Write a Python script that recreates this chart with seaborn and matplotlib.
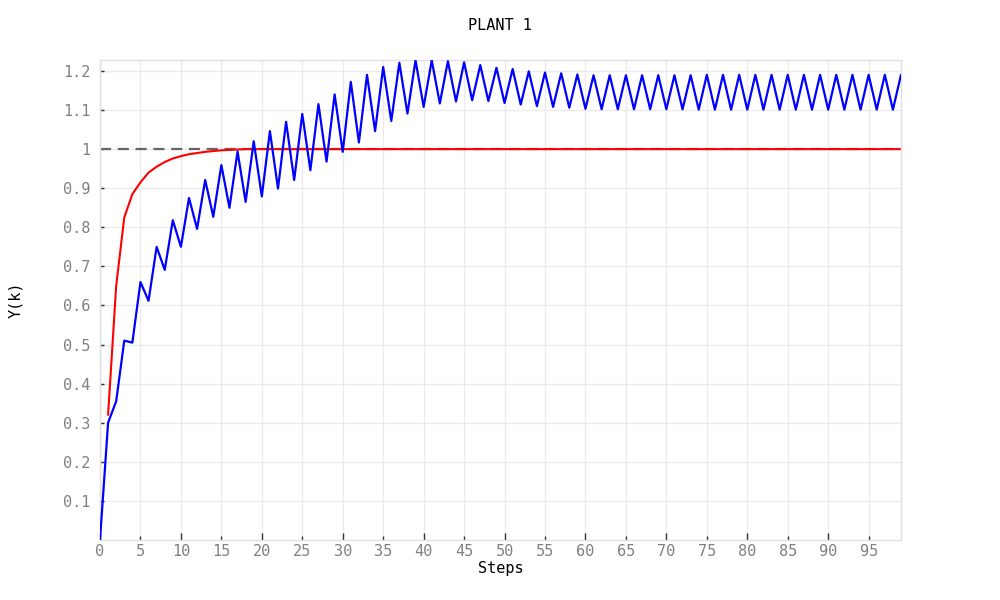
import numpy as np
import pandas as pd
import matplotlib
matplotlib.use("Agg")
import matplotlib.pyplot as plt
import seaborn as sns

# step index
steps = list(range(100))

# plant output (blue)
plant_out = [
    0.0, 0.30, 0.355, 0.51, 0.505, 0.66, 0.612, 0.75, 0.691, 0.818,
    0.75, 0.875, 0.796, 0.921, 0.827, 0.959, 0.85, 0.994, 0.865, 1.02,
    0.879, 1.046, 0.899, 1.07, 0.921, 1.09, 0.946, 1.115, 0.968, 1.14,
    0.993, 1.172, 1.017, 1.19, 1.046, 1.21, 1.072, 1.221, 1.091, 1.227,
    1.108, 1.227, 1.117, 1.225, 1.122, 1.222, 1.125, 1.215, 1.123, 1.208,
    1.118, 1.205, 1.114, 1.199, 1.11, 1.196, 1.108, 1.194, 1.106, 1.191,
    1.103, 1.189, 1.102, 1.189, 1.102, 1.189, 1.102, 1.189, 1.102, 1.189,
    1.102, 1.189, 1.102, 1.189, 1.101, 1.19, 1.101, 1.19, 1.101, 1.19,
    1.101, 1.19, 1.101, 1.19, 1.101, 1.19, 1.101, 1.19, 1.101, 1.19,
    1.101, 1.19, 1.101, 1.19, 1.101, 1.19, 1.101, 1.19, 1.101, 1.19,
]

# reference model output (red), starts at step 1
ref_steps = list(range(1, 100))
ref_out = [
    0.32, 0.65, 0.825, 0.885, 0.915, 0.94, 0.955, 0.967, 0.976, 0.982,
    0.987, 0.99, 0.993, 0.995, 0.997, 0.998, 0.999,
] + [1.0] * 82

setpoint = 1.0

ytick_vals = [0.1, 0.2, 0.3, 0.4, 0.5, 0.6, 0.7, 0.8, 0.9, 1.0, 1.1, 1.2]
ytick_labels = ["0.1", "0.2", "0.3", "0.4", "0.5", "0.6", "0.7", "0.8", "0.9", "1", "1.1", "1.2"]

sns.set_theme(style="whitegrid")
plt.rcParams["font.family"] = ["DejaVu Sans Mono", "DejaVu Sans"]

fig = plt.figure(figsize=(10, 6), dpi=100)
ax = fig.add_axes([0.1, 0.1, 0.801, 0.8])

ax.axhline(setpoint, color="#666666", lw=1.6, ls=(0, (5, 3)), zorder=1)

df_ref = pd.DataFrame({"step": ref_steps, "y": ref_out})
df_plant = pd.DataFrame({"step": steps, "y": plant_out})
sns.lineplot(data=df_ref, x="step", y="y", color="#ff0000", lw=1.5, ax=ax, zorder=2)
sns.lineplot(data=df_plant, x="step", y="y", color="#0000ff", lw=1.6, ax=ax, zorder=3)

ax.set_xlim(0, 99)
ax.set_ylim(0, 1.228)

# long ticks at tens, short ticks at fives
ax.set_xticks(list(range(0, 100, 10)))
ax.set_xticks(list(range(5, 100, 10)), minor=True)
ax.set_xticklabels([str(v) for v in range(0, 100, 10)])
ax.set_xticklabels([str(v) for v in range(5, 100, 10)], minor=True)
ax.set_yticks(ytick_vals)
ax.set_yticklabels(ytick_labels)

ax.tick_params(axis="x", which="major", direction="in", length=5, width=1,
               color="#333333", labelcolor="#808080", labelsize=11, pad=3)
ax.tick_params(axis="x", which="minor", direction="in", length=3, width=1,
               color="#333333", labelcolor="#808080", labelsize=11, pad=3)
ax.tick_params(axis="y", direction="in", length=3, width=1,
               color="#333333", labelcolor="#808080", labelsize=11, pad=7)
ax.tick_params(left=True, bottom=True)
ax.tick_params(axis="x", which="minor", bottom=True)

ax.grid(True, which="both", color="#ebebeb", lw=1)
for sp in ax.spines.values():
    sp.set_color("#e0e0e0")
    sp.set_linewidth(1)

ax.set_xlabel("Steps", fontsize=11, color="black", labelpad=1)
ax.set_ylabel("Y(k)", fontsize=11, color="black")
ax.yaxis.set_label_coords(-0.096, 0.5)
fig.suptitle("PLANT 1", y=0.97, fontsize=11, color="black")

fig.savefig("out.png", dpi=100, facecolor="white")
